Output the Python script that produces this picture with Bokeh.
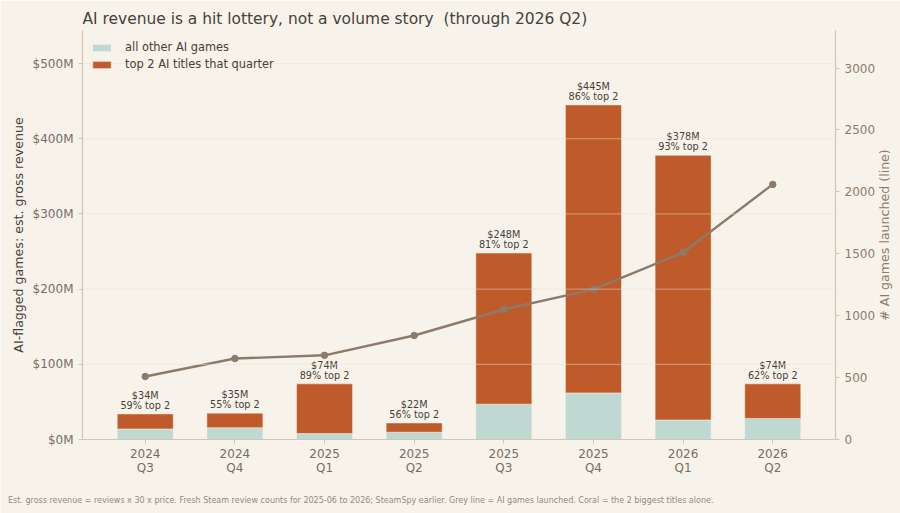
from bokeh.plotting import figure
from bokeh.models import ColumnDataSource, Range1d, LinearAxis, FixedTicker, Legend, LegendItem, Span
from bokeh.core.properties import value
from bokeh.embed import file_html
from bokeh.resources import INLINE
import math

# ---- data ----
quarters = ["2024\nQ3", "2024\nQ4", "2025\nQ1", "2025\nQ2", "2025\nQ3", "2025\nQ4", "2026\nQ1", "2026\nQ2"]
others = [14, 15.7, 8, 9.7, 47, 62, 26, 28]
top2 = [20, 19.3, 66, 12.3, 201, 383, 352, 46]
launched = [509, 654, 680, 840, 1050, 1212, 1510, 2060]
bar_labels = ["$34M\n59% top 2", "$35M\n55% top 2", "$74M\n89% top 2", "$22M\n56% top 2",
              "$248M\n81% top 2", "$445M\n86% top 2", "$378M\n93% top 2", "$74M\n62% top 2"]
left_ticks = [0, 100, 200, 300, 400, 500]
right_ticks = [0, 500, 1000, 1500, 2000, 2500, 3000]
title = "AI revenue is a hit lottery, not a volume story \u00a0(through 2026 Q2)"
right_label = "# AI games launched (line)"
footnote = "Est. gross revenue = reviews x 30 x price. Fresh Steam review counts for 2025-06 to 2026; SteamSpy earlier. Grey line = AI games launched. Coral = the 2 biggest titles alone."

BG = "#f8f3ea"
SPINE = "#cfc6b4"
FONT = "DejaVu Sans"

xs = list(range(len(quarters)))
totals = [a + b for a, b in zip(others, top2)]
src = ColumnDataSource(dict(x=xs, others=others, totals=totals, launched=launched, label=bar_labels))

x_rng = Range1d(-0.70, 7.70)
y_rng = Range1d(0, 544)
p = figure(width=900, height=513, output_backend="svg", toolbar_location=None,
           x_range=x_rng, y_range=y_rng,
           min_border_left=82, min_border_right=65, min_border_top=30, min_border_bottom=74,
           background_fill_color=BG, border_fill_color=BG, outline_line_color=None)
p.extra_y_ranges = {"games": Range1d(0, 3303)}

p.title.text = title
p.title.text_font = FONT
p.title.text_font_size = "15.45px"
p.title.text_font_style = "normal"
p.title.text_color = "#45413b"
p.title.offset = 0
p.title.standoff = 6

p.xgrid.visible = False
p.ygrid.visible = False

bars_o = p.vbar(x="x", bottom=0, top="others", width=0.625, source=src, fill_color="#bfd8d2", line_color=BG, line_width=0.5)
bars_t = p.vbar(x="x", bottom="others", top="totals", width=0.625, source=src, fill_color="#bf5b2a", line_color=BG, line_width=0.5)

for t in left_ticks[1:]:
    p.add_layout(Span(location=t, dimension="width", line_color="#e9e2d4", line_width=1, line_alpha=0.5, level="glyph"))

p.line("x", "launched", source=src, y_range_name="games", line_color="#8c7b6b", line_width=2.4)
p.scatter("x", "launched", source=src, y_range_name="games", size=6.5, fill_color="#8c7b6b", line_color="#8c7b6b")

p.text("x", "totals", text="label", source=src, text_align="center", text_baseline="bottom", y_offset=-3,
       text_font=value(FONT), text_font_size="9.7px", text_color="#45413b", text_line_height=0.93)

ax = p.xaxis[0]
ax.ticker = FixedTicker(ticks=xs)
ax.major_label_overrides = {i: q for i, q in zip(xs, quarters)}
ax.major_label_text_font = FONT
ax.major_label_text_font_size = "12px"
ax.major_label_text_line_height = 1.0
ax.major_label_standoff = 3
ax.major_label_text_color = "#756e64"
ax.axis_line_color = SPINE
ax.major_tick_line_color = SPINE
ax.major_tick_out = 4
ax.major_tick_in = 0
ax.minor_tick_line_color = None
ax.axis_line_width = 1.2

ay = p.yaxis[0]
ay.ticker = FixedTicker(ticks=left_ticks)
ay.major_label_overrides = {t: f"${t}M" for t in left_ticks}
ay.major_label_text_font = FONT
ay.major_label_text_font_size = "12px"
ay.major_label_text_color = "#756e64"
ay.axis_line_color = SPINE
ay.major_tick_line_color = SPINE
ay.major_tick_out = 4
ay.major_tick_in = 0
ay.minor_tick_line_color = None
ay.axis_line_width = 1.2
ay.axis_label = "AI-flagged games: est. gross revenue"
ay.axis_label_standoff = 4
ay.axis_label_text_font = FONT
ay.axis_label_text_font_style = "normal"
ay.axis_label_text_font_size = "12.6px"
ay.axis_label_text_color = "#45413b"

ar = LinearAxis(y_range_name="games", ticker=FixedTicker(ticks=right_ticks))
ar.major_label_text_font = FONT
ar.major_label_text_font_size = "12px"
ar.major_label_text_color = "#8c7b6b"
ar.axis_line_color = SPINE
ar.major_tick_line_color = SPINE
ar.major_tick_out = 4
ar.major_tick_in = 0
ar.minor_tick_line_color = None
ar.axis_line_width = 1.2
p.add_layout(ar, "right")

# Right-axis title, reading bottom to top and centred on the frame.
p.text(x=[x_rng.end], y=[(y_rng.start + y_rng.end) / 2], text=[right_label], angle=math.pi / 2,
       x_offset=49, text_align="center", text_baseline="middle", level="overlay",
       text_font=value(FONT), text_font_size="12.6px", text_color="#8c7b6b")

# Footnote in the bottom margin, starting near the page's left edge.
p.text(x=[x_rng.start], y=[y_rng.start], text=[footnote], x_offset=-74.5, y_offset=61,
       text_align="left", text_baseline="middle", level="overlay",
       text_font=value(FONT), text_font_size="8px", text_color="#938a7b")

legend = Legend(items=[LegendItem(label="all other AI games", renderers=[bars_o]),
                       LegendItem(label="top 2 AI titles that quarter", renderers=[bars_t])],
                location=(8, 368), background_fill_alpha=0, border_line_color=None,
                label_text_font=FONT, label_text_font_size="11.4px", label_text_color="#45413b",
                glyph_width=23, glyph_height=9, spacing=3, margin=0, padding=6, label_standoff=12)
p.add_layout(legend, "center")

open("out.html", "w").write(file_html(p, INLINE))
